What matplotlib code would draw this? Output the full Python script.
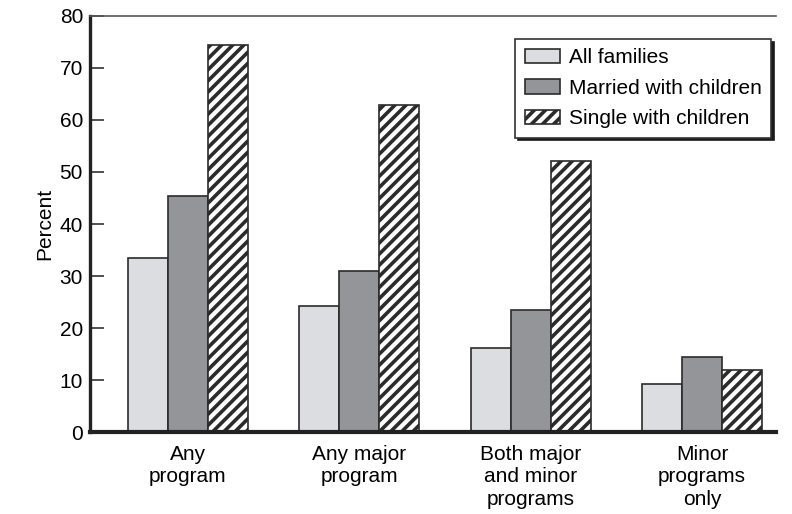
import numpy as np
import matplotlib
matplotlib.use("Agg")
import matplotlib.pyplot as plt

plt.rcParams['font.family'] = ['Liberation Sans', 'DejaVu Sans']
plt.rcParams['hatch.linewidth'] = 2.6
plt.rcParams['hatch.color'] = '#1a1a1a'

categories = ['Any\nprogram', 'Any major\nprogram', 'Both major\nand minor\nprograms', 'Minor\nprograms\nonly']
all_families = [33.5, 24.3, 16.2, 9.3]
married_children = [45.4, 31.0, 23.4, 14.5]
single_children = [74.4, 62.8, 52.1, 11.9]
series_names = ['All families', 'Married with children', 'Single with children']
yticks = [0, 10, 20, 30, 40, 50, 60, 70, 80]

fs = 15

fig = plt.figure(figsize=(7.92, 5.14), dpi=100)
ax = fig.add_axes([0.1136, 0.1595, 0.8662, 0.8094])

x = np.arange(len(categories))
w = 0.233
edge = '#2b2b2b'

ax.bar(x - w, all_families, w, color='#dcdde0', edgecolor=edge, linewidth=1.2,
       label=series_names[0], zorder=2)
ax.bar(x, married_children, w, color='#939598', edgecolor=edge, linewidth=1.2,
       label=series_names[1], zorder=2)
ax.bar(x + w, single_children, w, color='white', edgecolor=edge, linewidth=1.2,
       hatch='///', label=series_names[2], zorder=2)

ax.set_xlim(-0.572, 3.432)
ax.set_ylim(0, 80)
ax.set_yticks(yticks)
ax.set_xticks(x)
ax.set_xticklabels(categories, fontsize=fs, linespacing=1.25)
ax.tick_params(axis='x', length=0, pad=9)
ax.tick_params(axis='y', direction='in', length=10, width=1.2, color='#333333',
               labelsize=fs, pad=5)
ax.set_ylabel('Percent', fontsize=fs, labelpad=4)

ax.spines['left'].set_linewidth(2.4)
ax.spines['left'].set_color('#222222')
ax.spines['bottom'].set_linewidth(3)
ax.spines['bottom'].set_color('#222222')
ax.spines['top'].set_linewidth(1.2)
ax.spines['top'].set_color('#555555')
ax.spines['right'].set_visible(False)

leg = ax.legend(loc='upper right', bbox_to_anchor=(0.9927, 0.945), borderaxespad=0,
                fontsize=fs, fancybox=False, framealpha=1, edgecolor='#333333',
                handlelength=1.68, handleheight=0.7, handletextpad=0.43,
                labelspacing=0.55, borderpad=0.45,
                shadow={'color': '#1a1a1a', 'alpha': 1})
leg.get_frame().set_linewidth(1.2)

fig.savefig('out.png', dpi=100)
